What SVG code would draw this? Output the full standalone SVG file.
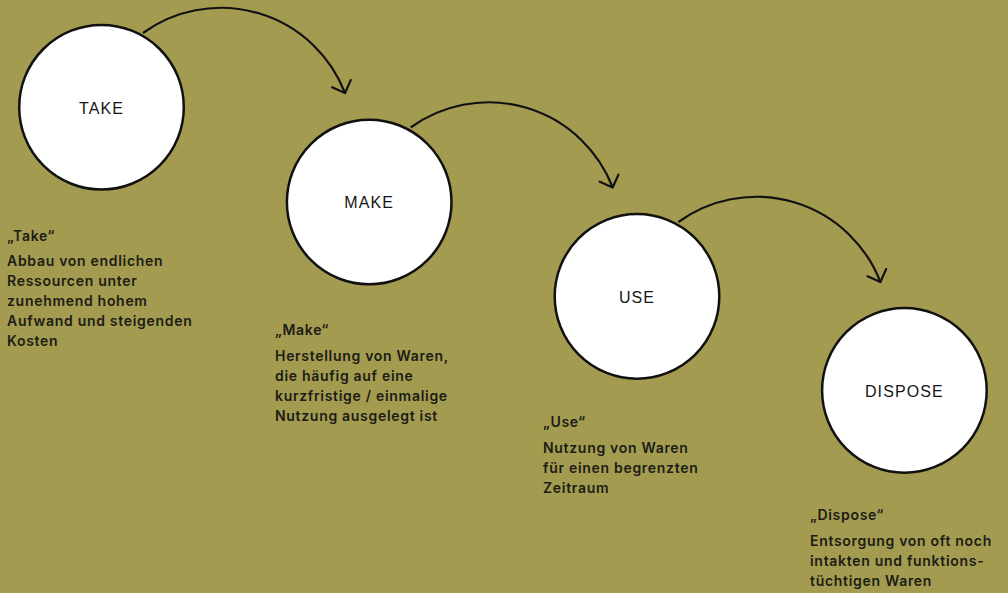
<svg xmlns="http://www.w3.org/2000/svg" width="1008" height="593" viewBox="0 0 1008 593">
  <style>
    .bg { fill: #A39B50; }
    .node circle { fill: #ffffff; stroke: #111111; stroke-width: 2.5; }
    .node text { font-family: "Liberation Sans", Arial, sans-serif; font-size: 16px; letter-spacing: 1.1px; fill: #161616; text-anchor: middle; }
    .flow path { fill: none; stroke: #111111; stroke-width: 2.2; }
    .desc text { font-family: Inter, "Liberation Sans", sans-serif; font-size: 14px; font-weight: 600; fill: #1c1c16; letter-spacing: 0.7px; }
  </style>
  <defs>
    <marker id="arrow" markerUnits="userSpaceOnUse" markerWidth="30" markerHeight="30" viewBox="-15 -15 30 30" refX="0" refY="0" orient="auto" overflow="visible">
      <path d="M-10,-10 L0,0 L-10,10" fill="none" stroke="#111111" stroke-width="2.2" stroke-linecap="round" stroke-linejoin="round"/>
    </marker>
  </defs>

  <rect class="bg" x="0" y="0" width="1008" height="593"/>

  <!-- curved arrows between the stages -->
  <g id="connectors" class="flow">
    <path d="M143,33 A133,133 0 0 1 345,93" marker-end="url(#arrow)"/>
    <path d="M410.7,127.5 A133,133 0 0 1 612.7,187.5" marker-end="url(#arrow)"/>
    <path d="M678.4,222 A133,133 0 0 1 880.4,282" marker-end="url(#arrow)"/>
  </g>

  <!-- stage circles -->
  <g id="take" class="node">
    <circle cx="101.5" cy="107.2" r="82.3"/>
    <text x="101.5" y="113.5">TAKE</text>
  </g>
  <g id="make" class="node">
    <circle cx="369.2" cy="202" r="82.3"/>
    <text x="369.2" y="208.4">MAKE</text>
  </g>
  <g id="use" class="node">
    <circle cx="637" cy="296.4" r="82.3"/>
    <text x="637" y="302.8">USE</text>
  </g>
  <g id="dispose" class="node">
    <circle cx="904.4" cy="390.4" r="82.3"/>
    <text x="904.4" y="396.8">DISPOSE</text>
  </g>

  <!-- stage descriptions -->
  <g id="take-desc" class="desc">
    <text x="7" y="241">„Take“</text>
    <text x="7" y="266">Abbau von endlichen</text>
    <text x="7" y="286">Ressourcen unter</text>
    <text x="7" y="306">zunehmend hohem</text>
    <text x="7" y="326">Aufwand und steigenden</text>
    <text x="7" y="346">Kosten</text>
  </g>
  <g id="make-desc" class="desc">
    <text x="275" y="334.5">„Make“</text>
    <text x="275" y="361">Herstellung von Waren,</text>
    <text x="275" y="381">die häufig auf eine</text>
    <text x="275" y="401">kurzfristige / einmalige</text>
    <text x="275" y="421">Nutzung ausgelegt ist</text>
  </g>
  <g id="use-desc" class="desc">
    <text x="543" y="426.5">„Use“</text>
    <text x="543" y="453">Nutzung von Waren</text>
    <text x="543" y="473">für einen begrenzten</text>
    <text x="543" y="493">Zeitraum</text>
  </g>
  <g id="dispose-desc" class="desc">
    <text x="810" y="519.5">„Dispose“</text>
    <text x="810" y="546">Entsorgung von oft noch</text>
    <text x="810" y="566">intakten und funktions-</text>
    <text x="810" y="586">tüchtigen Waren</text>
  </g>
</svg>
